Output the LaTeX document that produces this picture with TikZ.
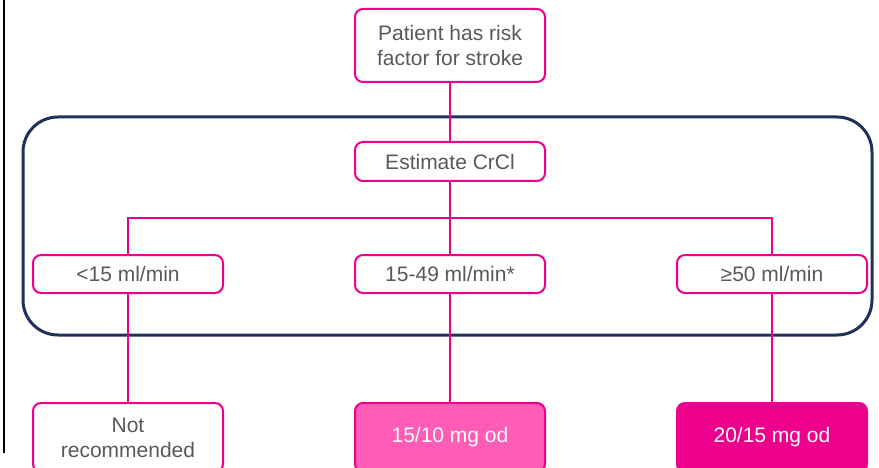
\documentclass[tikz,border=0pt]{standalone}
\usepackage{fontspec}
\setmainfont{Liberation Sans}
\usepackage{tikz}
\definecolor{rxpink}{HTML}{EC008C}
\definecolor{rxlight}{HTML}{FF5CB8}
\definecolor{rxnavy}{HTML}{1F3158}
\definecolor{rxgrey}{HTML}{595959}
\tikzset{
    stepbox/.style={draw=rxpink, line width=2pt, rounded corners=8pt, fill=white, text=rxgrey,
        minimum width=190pt, inner sep=0pt, align=center, font=\fontsize{21}{25}\selectfont},
    dosebox/.style={stepbox, minimum height=69pt},
    link/.style={draw=rxpink, line width=2pt}
}

\begin{document}
\begin{tikzpicture}[x=1pt, y=-1pt]
        \useasboundingbox (0,0) rectangle (879,468);

        \draw[line width=2pt] (4,0) -- (4,453);
        \draw[rxnavy, line width=3pt, rounded corners=35pt] (23,117) rectangle (872,335);

        \coordinate (split) at (450,218);

        \node[stepbox, minimum height=73pt] (risk) at (450,45.5) {Patient has risk\\factor for stroke};
        \node[stepbox, minimum height=39pt] (crcl) at (450,161.5) {Estimate CrCl};

        \node[stepbox, minimum height=38pt] (low) at (128,274) {<15 ml/min};
        \node[stepbox, minimum height=38pt] (mid) at (450,274) {15-49 ml/min*};
        \node[stepbox, minimum height=38pt] (high) at (772,274) {≥50 ml/min};

        \node[dosebox] (none) at (128,437.5) {Not\\recommended};
        \node[dosebox, fill=rxlight, text=white] (half) at (450,437.5) {15/10 mg od};
        \node[dosebox, fill=rxpink, text=white] (full) at (772,437.5) {20/15 mg od};

        \draw[link] (risk) -- (crcl);
        \draw[link] (crcl) -- (mid);
        \draw[link] (low.north) |- (split) -| (high.north);
        \draw[link] (low) -- (none);
        \draw[link] (mid) -- (half);
        \draw[link] (high) -- (full);
    \end{tikzpicture}
\end{document}
